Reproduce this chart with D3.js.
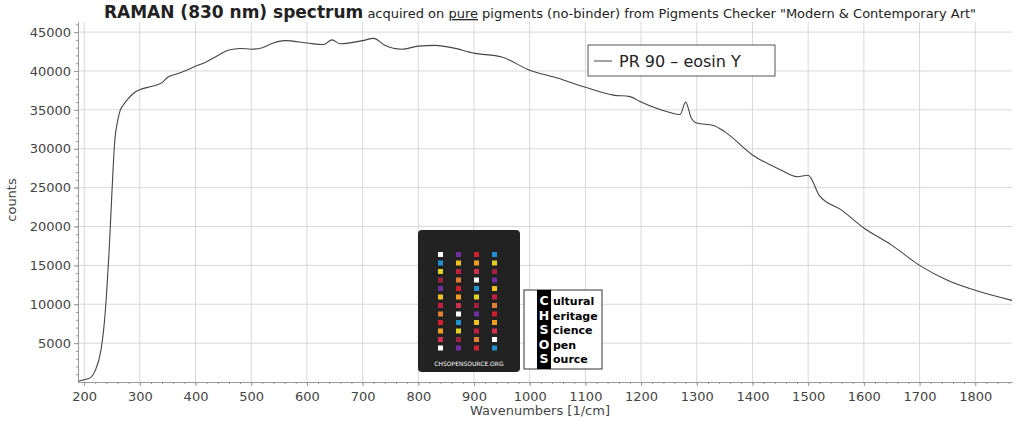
<!DOCTYPE html><html><head><meta charset="utf-8">
<script src="https://cdn.jsdelivr.net/npm/d3@7"></script>
<style>body{margin:0;background:#fff}text{font-family:"DejaVu Sans",sans-serif}</style></head><body>
<svg id="c" width="1024" height="429"></svg>
<script>
const wavenumbers=[190,200,210,220,230,235,240,245,250,255,260,265,270,280,290,300,320,340,350,370,400,420,440,460,480,500,520,540,560,600,630,645,660,700,720,740,770,800,830,860,900,950,1000,1050,1100,1150,1180,1200,1250,1270,1280,1290,1300,1330,1350,1400,1450,1480,1500,1520,1560,1600,1650,1700,1750,1800,1866];
const counts=[100,300,500,1500,4000,6700,11000,17000,24500,31000,33500,35000,35600,36500,37200,37600,38000,38500,39200,39700,40600,41200,42000,42700,42900,42800,43000,43600,43900,43600,43400,44000,43500,43900,44200,43300,42800,43200,43300,43000,42300,41800,40100,39100,37900,36900,36700,36000,34700,34400,36000,34000,33300,33000,32200,29200,27300,26400,26600,24000,22100,19800,17600,15000,13100,11800,10500];
const xTicks=[200,300,400,500,600,700,800,900,1000,1100,1200,1300,1400,1500,1600,1700,1800];
const yTicks=[5000,10000,15000,20000,25000,30000,35000,40000,45000];
const svg=d3.select("#c");
const L=78,R=1012,T=22,B=382;
const x=d3.scaleLinear().domain([189,1866]).range([L,R]);
const y=d3.scaleLinear().domain([0,46300]).range([B,T]);
const g=svg.append("g");
g.selectAll(".gx").data(xTicks).join("line").attr("x1",d=>x(d)).attr("x2",d=>x(d)).attr("y1",T).attr("y2",B).attr("stroke","#d8d8d8");
g.selectAll(".gy").data(yTicks).join("line").attr("x1",L).attr("x2",R).attr("y1",d=>y(d)).attr("y2",d=>y(d)).attr("stroke","#d8d8d8");
const xa=svg.append("g").attr("transform",`translate(0,${B})`).call(d3.axisBottom(x).tickValues(xTicks).tickFormat(d3.format("d")).tickSize(4).tickSizeOuter(0));
const xm=svg.append("g").attr("transform",`translate(0,${B})`).call(d3.axisBottom(x).tickValues(d3.range(200,1866,20)).tickFormat("").tickSize(2).tickSizeOuter(0));
const ya=svg.append("g").attr("transform",`translate(${L},0)`).call(d3.axisLeft(y).tickValues(yTicks).tickFormat(d3.format("d")).tickSize(4).tickSizeOuter(0));
const ym=svg.append("g").attr("transform",`translate(${L},0)`).call(d3.axisLeft(y).tickValues(d3.range(1000,46300,1000)).tickFormat("").tickSize(2).tickSizeOuter(0));
[xa,xm,ya,ym].forEach(a=>{a.selectAll("path,line").attr("stroke","#999");a.selectAll("text").attr("fill","#444").attr("font-size",13).style("font-family","DejaVu Sans");});
xa.selectAll("text").attr("dy","0.9em");
svg.append("path").datum(wavenumbers.map((w,i)=>[w,counts[i]])).attr("fill","none").attr("stroke","#444").attr("stroke-width",1.1)
 .attr("d",d3.line().x(d=>x(d[0])).y(d=>y(d[1])).curve(d3.curveMonotoneX));
const t=svg.append("text").attr("x",540).attr("y",18).attr("text-anchor","middle").attr("fill","#222");
t.append("tspan").attr("font-weight","bold").attr("font-size",17).text("RAMAN (830 nm) spectrum");
t.append("tspan").attr("font-size",13).text(" acquired on ");
t.append("tspan").attr("font-size",13).attr("text-decoration","underline").text("pure");
t.append("tspan").attr("font-size",13).text(" pigments (no-binder) from Pigments Checker \"Modern & Contemporary Art\"");
svg.append("text").attr("transform","translate(16,200) rotate(-90)").attr("text-anchor","middle").attr("font-size",13).attr("fill","#444").text("counts");
svg.append("text").attr("x",540).attr("y",415).attr("text-anchor","middle").attr("font-size",13).attr("fill","#444").text("Wavenumbers [1/cm]");
svg.append("rect").attr("x",588).attr("y",45).attr("width",187).attr("height",31).attr("fill","#fff").attr("stroke","#555");
svg.append("line").attr("x1",594).attr("x2",612).attr("y1",61).attr("y2",61).attr("stroke","#444");
svg.append("text").attr("x",619).attr("y",67).attr("font-size",16).attr("fill","#222").text("PR 90 – eosin Y");
// logo
svg.append("rect").attr("x",418).attr("y",230).attr("width",102).attr("height",142).attr("rx",4).attr("fill","#222");
const sw=["#fff","#7030a0","#d02030","#2090d0","#f0c020","#f0a020","#e0d020","#c02040","#d03050","#a02040","#e08030"];
for(let r=0;r<12;r++)for(let c=0;c<4;c++){svg.append("rect").attr("x",438+c*18).attr("y",252+r*8.5).attr("width",5).attr("height",5).attr("fill",sw[(r*3+c)%sw.length]);}
svg.append("text").attr("x",469).attr("y",366).attr("text-anchor","middle").attr("font-size",6).attr("fill","#fff").text("CHSOPENSOURCE.ORG");
svg.append("rect").attr("x",524).attr("y",290).attr("width",78).attr("height",79).attr("fill","#fff").attr("stroke","#333");
svg.append("rect").attr("x",537).attr("y",290).attr("width",14).attr("height",79).attr("fill","#000");
["Cultural","Heritage","Science","Open","Source"].forEach((w,i)=>{
 svg.append("text").attr("x",544).attr("y",305+i*14.5).attr("text-anchor","middle").attr("font-size",12.5).attr("font-weight","bold").attr("fill","#fff").text(w[0]);
 svg.append("text").attr("x",553).attr("y",305+i*14.5).attr("font-size",11).attr("font-weight","bold").attr("fill","#000").text(w.slice(1));
});
</script></body></html>
